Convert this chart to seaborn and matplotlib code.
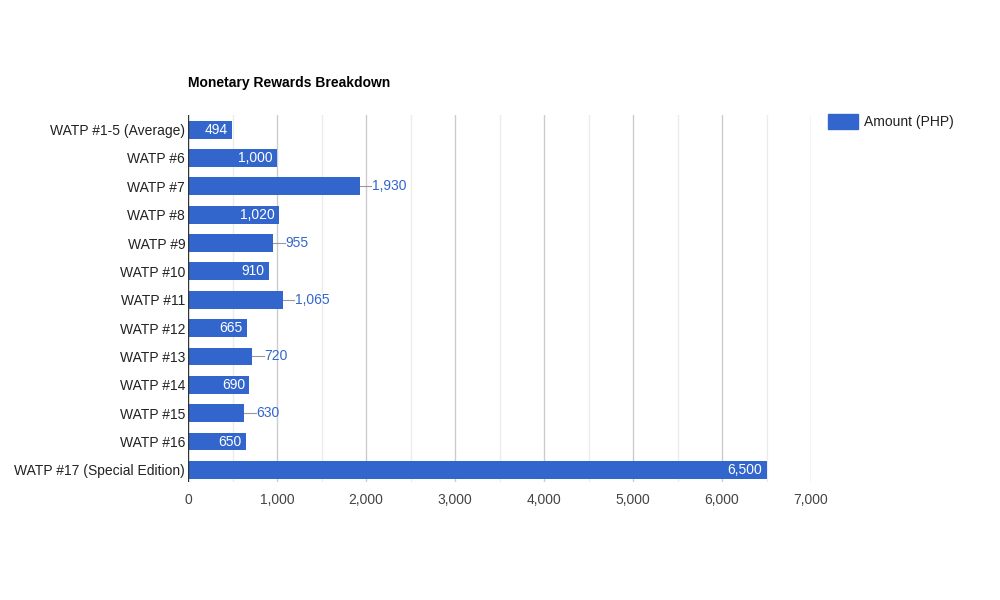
import matplotlib
matplotlib.use("Agg")
import matplotlib.pyplot as plt
import seaborn as sns
import pandas as pd

categories = ["WATP #1-5 (Average)", "WATP #6", "WATP #7", "WATP #8", "WATP #9", "WATP #10",
              "WATP #11", "WATP #12", "WATP #13", "WATP #14", "WATP #15", "WATP #16",
              "WATP #17 (Special Edition)"]
amounts = [494, 1000, 1930, 1020, 955, 910, 1065, 665, 720, 690, 630, 650, 6500]
outside = [False, False, True, False, True, False, True, False, True, False, True, False, False]
xticks = [0, 1000, 2000, 3000, 4000, 5000, 6000, 7000]

plt.rcParams["font.family"] = "Liberation Sans"
color = "#3366cc"
df = pd.DataFrame({"cat": categories, "amt": amounts})

fig = plt.figure(figsize=(10, 6), dpi=100)
ax = fig.add_axes([0.188, 0.197, 0.623, 0.612])
for m in range(500, 7000, 1000):
    ax.axvline(m, color="#ebebeb", lw=1, zorder=0)
for t in xticks[1:]:
    ax.axvline(t, color="#cccccc", lw=1, zorder=0)
sns.barplot(data=df, y="cat", x="amt", orient="h", color=color, saturation=1,
            width=0.63, ax=ax, zorder=2)
ax.axvline(0, color="#333333", lw=1, zorder=3)
ax.set_xlim(0, 7000)
ax.set_ylim(12.42, -0.53)
ax.set_xticks(xticks)
ax.set_xticklabels([f"{t:,}" for t in xticks], fontsize=10, color="#444444")
ax.tick_params(axis="y", labelsize=10, labelcolor="#222222", length=0, pad=2)
ax.tick_params(axis="x", length=0, pad=8)
ax.set_xlabel(""); ax.set_ylabel("")
for s in ax.spines.values():
    s.set_visible(False)
for i, (v, o) in enumerate(zip(amounts, outside)):
    if o:
        ax.plot([v, v + 130], [i, i], color="#999999", lw=0.8, zorder=3)
        ax.text(v + 140, i, f"{v:,}", va="center", ha="left", fontsize=10, color=color)
    else:
        ax.text(v - 50, i, f"{v:,}", va="center", ha="right", fontsize=10, color="white", zorder=4)
fig.text(0.188, 0.862, "Monetary Rewards Breakdown", fontsize=10, fontweight="bold", va="center")
fig.patches.append(plt.Rectangle((0.828, 0.785), 0.03, 0.025, transform=fig.transFigure,
                                 color=color, figure=fig))
fig.text(0.864, 0.797, "Amount (PHP)", fontsize=10, va="center", color="#222222")
fig.savefig("out.png", dpi=100)
